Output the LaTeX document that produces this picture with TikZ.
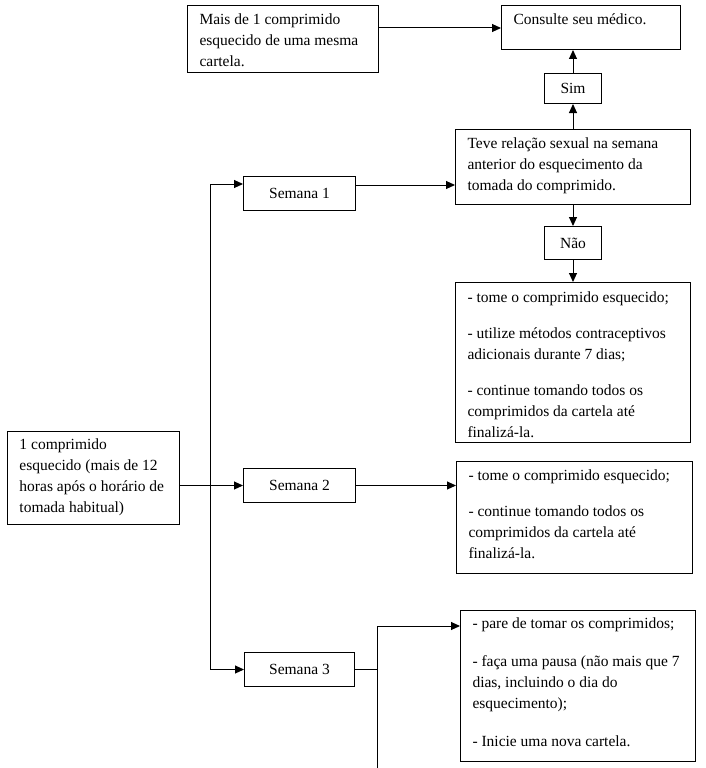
\documentclass[tikz,border=0pt]{standalone}
\usepackage{fontspec}
\setmainfont{Liberation Serif}
\usetikzlibrary{arrows.meta,calc}
\newcommand{\boxtxt}[4]{\begin{minipage}[c][#2][t]{#1}\vspace*{#3}\leftskip=12pt\relax\noindent\strut #4\par\end{minipage}}
\tikzset{
  txtbox/.style={draw, line width=1pt, inner sep=0pt, anchor=north west, font=\fontsize{15.5}{21}\selectfont},
  sbox/.style={draw, line width=1pt, inner sep=0pt, anchor=north west, align=center, font=\fontsize{15.5}{21}\selectfont},
  arr/.style={line width=1pt, -{Triangle[length=9pt,width=8pt]}},
  arrboth/.style={line width=1pt, {Triangle[length=9pt,width=8pt]}-{Triangle[length=9pt,width=8pt]}},
  plain/.style={line width=1pt}
}
\begin{document}
\begin{tikzpicture}[x=1pt,y=-1pt]
\useasboundingbox (0,0) rectangle (706,768);

\node[txtbox] (mais) at (187,5) {\boxtxt{191pt}{67pt}{4.5pt}{Mais de 1 comprimido\\esquecido de uma mesma\\cartela.}};
\node[txtbox] (cons) at (501,5) {\boxtxt{179pt}{44pt}{4.5pt}{Consulte seu médico.}};
\node[sbox, minimum width=57pt, minimum height=30pt] (sim) at (544,73) {Sim};
\node[txtbox] (teve) at (455,129) {\boxtxt{235pt}{75pt}{4.5pt}{Teve relação sexual na semana\\anterior do esquecimento da\\tomada do comprimido.}};
\node[sbox, minimum width=112pt, minimum height=34pt] (s1) at (243,176) {Semana 1};
\node[sbox, minimum width=57pt, minimum height=33pt] (nao) at (544,226) {Não};
\node[txtbox] (b1) at (455,282) {\boxtxt{235pt}{160pt}{5pt}{- tome o comprimido esquecido;\\[15pt]- utilize métodos contraceptivos\\adicionais durante 7 dias;\\[15pt]- continue tomando todos os\\comprimidos da cartela até\\finalizá-la.}};
\node[txtbox] (comp) at (7,431) {\boxtxt{172pt}{93pt}{3.5pt}{1 comprimido\\esquecido (mais de 12\\horas após o horário de\\tomada habitual)}};
\node[sbox, minimum width=112pt, minimum height=34pt] (s2) at (243,468) {Semana 2};
\node[txtbox] (b2) at (456,461) {\boxtxt{236pt}{112pt}{4.5pt}{- tome o comprimido esquecido;\\[15pt]- continue tomando todos os\\comprimidos da cartela até\\finalizá-la.}};
\node[sbox, minimum width=110pt, minimum height=34pt] (s3) at (244,652) {Semana 3};
\node[txtbox] (b3) at (460,610) {\boxtxt{235pt}{151pt}{3pt}{- pare de tomar os comprimidos;\\[17pt]- faça uma pausa (não mais que 7\\dias, incluindo o dia do\\esquecimento);\\[17pt]- Inicie uma nova cartela.}};

\coordinate (t1) at (210,184);
\coordinate (b3top) at (377,626);
\coordinate (b3bot) at (377,768);
\coordinate (s1o) at ([yshift=-9pt]s1.north east);

\draw[arr] ([yshift=-23pt]mais.north east) -- ([yshift=-23pt]cons.north west);
\draw[arr] (sim.north) -- (sim.north |- cons.south);
\draw[arr] (teve.north) -- (sim.south);
\draw[arr] (teve.south) -- (nao.north);
\draw[arr] (nao.south) -- (b1.north);
\draw[arr] (s1o) -- (s1o -| teve.west);
\draw[arrboth] (t1 -| s1.west) -- (t1) -- (t1 |- s3.west) -- (s3.west);
\draw[arr] (comp.east |- s2.west) -- (s2.west);
\draw[arr] (s2.east) -- (s2.east -| b2.west);
\draw[plain] (s3.east) -- (s3.east -| b3top);
\draw[arr] (b3bot) -- (b3top) -- (b3top -| b3.west);
\end{tikzpicture}
\end{document}
